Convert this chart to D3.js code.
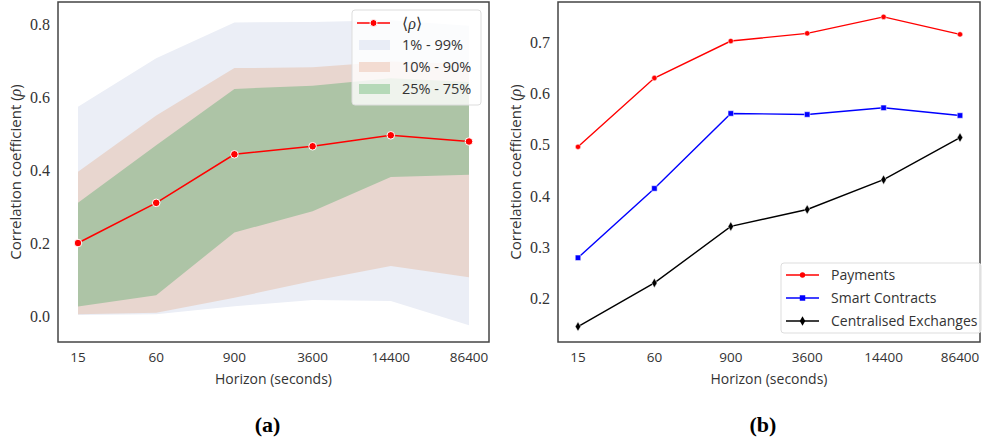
<!DOCTYPE html>
<html>
<head>
<meta charset="utf-8">
<script src="https://cdn.jsdelivr.net/npm/d3@7"></script>
<style>
  body { margin: 0; background: #fff; }
  text { fill: #333; }
</style>
</head>
<body>
<svg id="chart" width="990" height="440"></svg>
<script>
// horizons (x categories)
const horizons = ["15", "60", "900", "3600", "14400", "86400"];

// panel (a): mean correlation and percentile bands
const meanRho = [0.200, 0.310, 0.443, 0.465, 0.495, 0.478];
const p01 = [0.003, 0.005, 0.027, 0.044, 0.041, -0.025];
const p99 = [0.573, 0.706, 0.804, 0.805, 0.810, 0.795];
const p10 = [0.005, 0.009, 0.050, 0.096, 0.137, 0.106];
const p90 = [0.395, 0.549, 0.679, 0.681, 0.697, 0.690];
const p25 = [0.026, 0.057, 0.229, 0.287, 0.381, 0.387];
const p75 = [0.310, 0.468, 0.622, 0.631, 0.651, 0.641];

// panel (b): per-category correlation
const payments = [0.496, 0.630, 0.702, 0.717, 0.749, 0.715];
const smartContracts = [0.280, 0.415, 0.561, 0.559, 0.572, 0.557];
const centralisedEx = [0.146, 0.231, 0.341, 0.374, 0.432, 0.514];

const svg = d3.select("#chart");
const sans = "'Open Sans', 'DejaVu Sans', sans-serif";
const serif = "'Liberation Serif', 'DejaVu Serif', serif";

function panel(opts) {
    let g = svg.append("g");
    let x = d3.scalePoint()
        .domain(horizons)
        .range([opts.left + 20, opts.right - 20]);
    let y = d3.scaleLinear()
        .domain(opts.yDomain)
        .range([opts.bottom, opts.top]);

    // y tick labels (no tick marks)
    g.append("g")
        .selectAll("text")
        .data(opts.yTicks)
        .enter()
        .append("text")
        .attr("x", opts.left - 8)
        .attr("y", d => y(d))
        .attr("dy", "0.35em")
        .attr("text-anchor", "end")
        .style("font-family", serif)
        .style("font-size", "16px")
        .text(d3.format(".1f"));

    // x tick labels
    g.append("g")
        .selectAll("text")
        .data(horizons)
        .enter()
        .append("text")
        .attr("x", d => x(d))
        .attr("y", opts.bottom + 20)
        .attr("text-anchor", "middle")
        .style("font-family", sans)
        .style("font-size", "13.5px")
        .text(d => d);

    g.append("text")
        .attr("x", (opts.left + opts.right) / 2)
        .attr("y", opts.bottom + 42)
        .attr("text-anchor", "middle")
        .style("font-family", sans)
        .style("font-size", "14px")
        .text("Horizon (seconds)");

    let yl = g.append("text")
        .attr("transform", "translate(" + (opts.left - 37) + "," + ((opts.top + opts.bottom) / 2) + ") rotate(-90)")
        .attr("text-anchor", "middle")
        .style("font-family", sans)
        .style("font-size", "15px");
    yl.append("tspan").text("Correlation coefficient (");
    yl.append("tspan").style("font-family", serif).style("font-style", "italic").style("font-size", "16px").text("ρ");
    yl.append("tspan").text(")");

    g.append("text")
        .attr("x", (opts.left + opts.right) / 2 - 6)
        .attr("y", 432)
        .attr("text-anchor", "middle")
        .style("font-family", serif)
        .style("font-weight", "bold")
        .style("font-size", "22px")
        .style("fill", "#000")
        .text(opts.caption);

    let plot = g.append("g");
    g.append("rect")
        .attr("x", opts.left)
        .attr("y", opts.top)
        .attr("width", opts.right - opts.left)
        .attr("height", opts.bottom - opts.top)
        .attr("fill", "none")
        .attr("stroke", "#444")
        .attr("stroke-width", 1.5);

    return {g: g, plot: plot, x: x, y: y};
}

// ---------- panel (a)
let a = panel({left: 58, right: 489, top: 2, bottom: 342,
    yDomain: [-0.071, 0.86], yTicks: [0, 0.2, 0.4, 0.6, 0.8], caption: "(a)"});

let bands = [
    {lo: p01, hi: p99, color: "#ebeef6", swatch: "#e9edf6", label: "1% - 99%"},
    {lo: p10, hi: p90, color: "#e8d6cf", swatch: "#f3dcd2", label: "10% - 90%"},
    {lo: p25, hi: p75, color: "#adc4a6", swatch: "#b5d9b8", label: "25% - 75%"}
];

bands.forEach(function (b) {
    let area = d3.area()
        .x((d, i) => a.x(horizons[i]))
        .y0((d, i) => a.y(b.lo[i]))
        .y1((d, i) => a.y(b.hi[i]));
    a.plot.append("path")
        .datum(b.lo)
        .attr("d", area)
        .attr("fill", b.color);
});

let lineA = d3.line()
    .x((d, i) => a.x(horizons[i]))
    .y(d => a.y(d));
a.plot.append("path")
    .datum(meanRho)
    .attr("d", lineA)
    .attr("fill", "none")
    .attr("stroke", "#ff0000")
    .attr("stroke-width", 1.6);
a.plot.append("g")
    .selectAll("circle")
    .data(meanRho)
    .enter()
    .append("circle")
    .attr("cx", (d, i) => a.x(horizons[i]))
    .attr("cy", d => a.y(d))
    .attr("r", 3.8)
    .attr("fill", "#ff0000")
    .attr("stroke", "#fff")
    .attr("stroke-width", 1);

// legend (a)
let legA = a.g.append("g").attr("transform", "translate(352,10)");
legA.append("rect")
    .attr("width", 129).attr("height", 95).attr("rx", 3)
    .attr("fill", "#fff").attr("fill-opacity", 0.8)
    .attr("stroke", "#ddd");
legA.append("line")
    .attr("x1", 5).attr("x2", 38).attr("y1", 13).attr("y2", 13)
    .attr("stroke", "#ff0000").attr("stroke-width", 1.6);
legA.append("circle")
    .attr("cx", 21.5).attr("cy", 13).attr("r", 3.5)
    .attr("fill", "#ff0000").attr("stroke", "#fff");
legA.append("text")
    .attr("x", 50).attr("y", 13).attr("dy", "0.35em")
    .style("font-family", serif).style("font-size", "16px")
    .text("⟨")
    .append("tspan").style("font-style", "italic").text("ρ")
    .select(function () { return this.parentNode; })
    .append("tspan").text("⟩");
bands.forEach(function (b, i) {
    let yy = 35 + i * 22;
    legA.append("rect")
        .attr("x", 7).attr("y", yy - 5).attr("width", 31).attr("height", 10)
        .attr("fill", b.swatch);
    legA.append("text")
        .attr("x", 50).attr("y", yy).attr("dy", "0.35em")
        .style("font-family", sans).style("font-size", "14.5px")
        .text(b.label);
});

// ---------- panel (b)
let bp = panel({left: 558, right: 980, top: 2, bottom: 342,
    yDomain: [0.116, 0.778], yTicks: [0.2, 0.3, 0.4, 0.5, 0.6, 0.7], caption: "(b)"});

let series = [
    {name: "Payments", values: payments, color: "#ff0000", shape: d3.symbolCircle, size: 22},
    {name: "Smart Contracts", values: smartContracts, color: "#0000ff", shape: d3.symbolSquare, size: 30},
    {name: "Centralised Exchanges", values: centralisedEx, color: "#000000", shape: d3.symbolDiamond, size: 26}
];

let lineB = d3.line()
    .x((d, i) => bp.x(horizons[i]))
    .y(d => bp.y(d));

series.forEach(function (s) {
    bp.plot.append("path")
        .datum(s.values)
        .attr("d", lineB)
        .attr("fill", "none")
        .attr("stroke", s.color)
        .attr("stroke-width", 1.4);
    bp.plot.append("g")
        .selectAll("path")
        .data(s.values)
        .enter()
        .append("path")
        .attr("transform", (d, i) => "translate(" + bp.x(horizons[i]) + "," + bp.y(d) + ")")
        .attr("d", d3.symbol().type(s.shape).size(s.size))
        .attr("fill", s.color)
        .attr("stroke", "#fff")
        .attr("stroke-width", 0.5);
});

let legB = bp.g.append("g").attr("transform", "translate(781,263)");
legB.append("rect")
    .attr("width", 200).attr("height", 70).attr("rx", 3)
    .attr("fill", "#fff").attr("fill-opacity", 0.8)
    .attr("stroke", "#ddd");
series.forEach(function (s, i) {
    let yy = 12 + i * 23;
    legB.append("line")
        .attr("x1", 5).attr("x2", 38).attr("y1", yy).attr("y2", yy)
        .attr("stroke", s.color).attr("stroke-width", 1.4);
    legB.append("path")
        .attr("transform", "translate(21.5," + yy + ")")
        .attr("d", d3.symbol().type(s.shape).size(s.size))
        .attr("fill", s.color);
    legB.append("text")
        .attr("x", 50).attr("y", yy).attr("dy", "0.35em")
        .style("font-family", sans).style("font-size", "14px")
        .text(s.name);
});
</script>
</body>
</html>
